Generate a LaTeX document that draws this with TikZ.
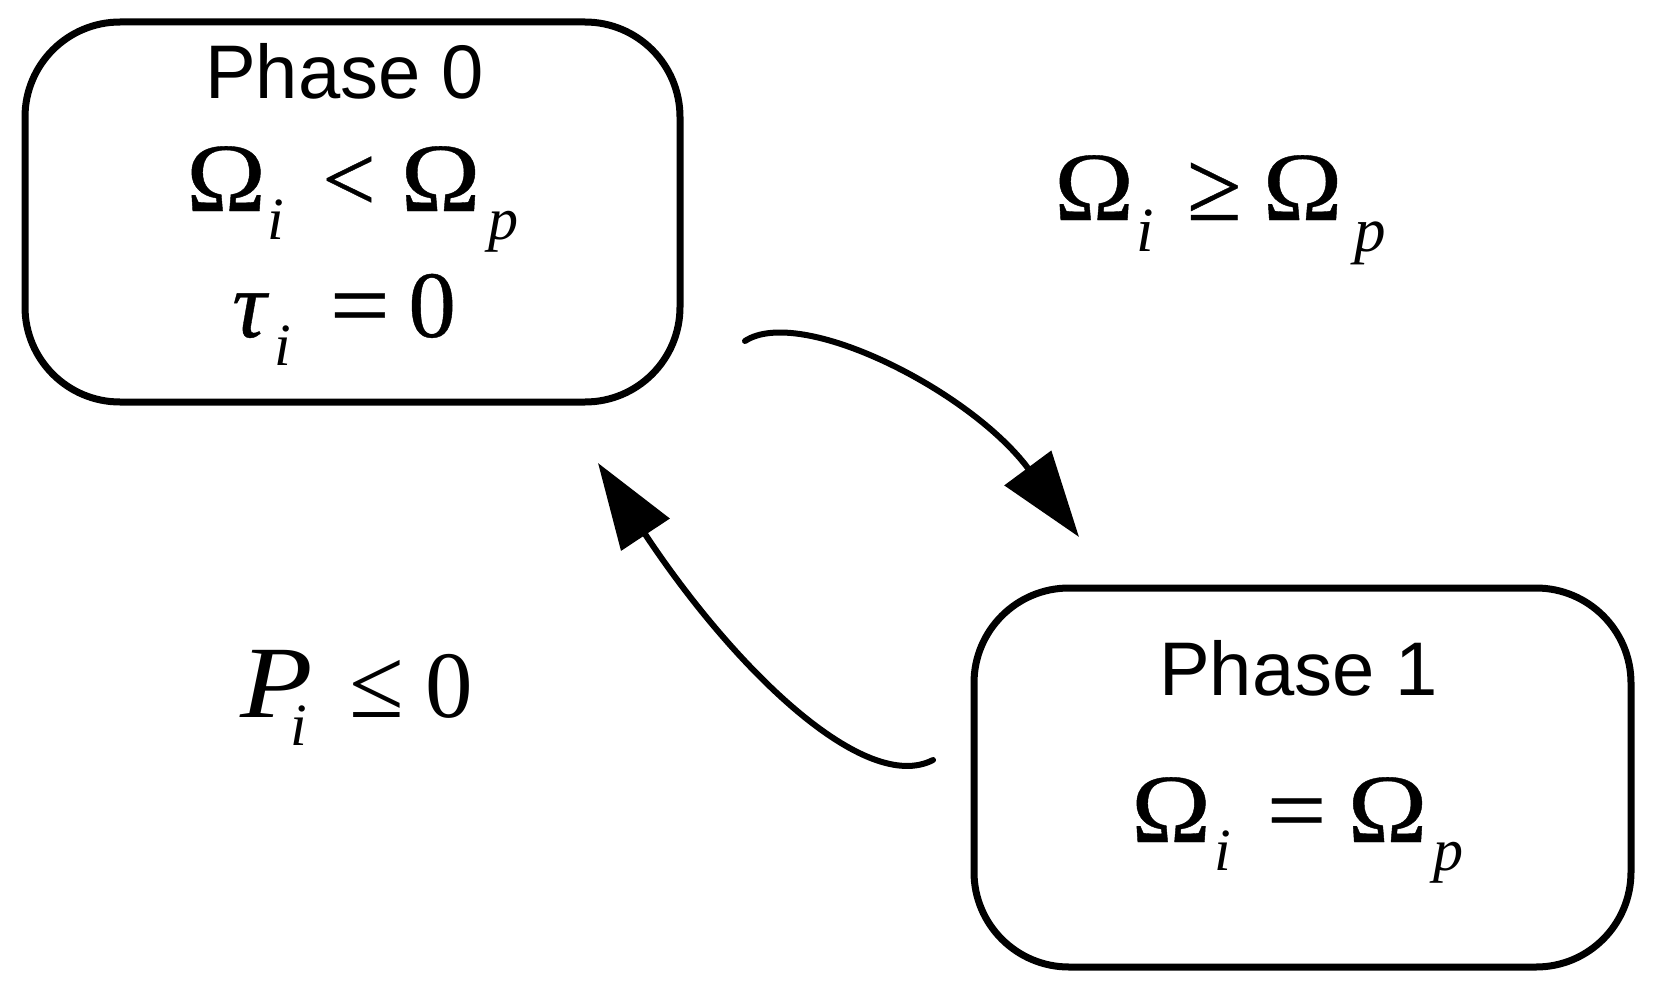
\documentclass[tikz,border=0pt]{standalone}
\usepackage{fontspec}
\setmainfont{Liberation Sans}
\newfontfamily\mser{Liberation Serif}
\newfontfamily\mserb[FakeBold=0.4]{Liberation Serif}
\usetikzlibrary{arrows.meta}
\newcommand\msub[1]{\raisebox{-28pt}{\fontsize{60}{60}\selectfont\mser\itshape #1}}
\newcommand\lsub[1]{\raisebox{-31pt}{\fontsize{63}{63}\selectfont\mser\itshape #1}}
\newcommand\Om{\scalebox{1.13}[1.03]{Ω}}
\newcommand\wide[1]{\scalebox{1.12}[1]{#1}}
\newcommand\rel[1]{\scalebox{1.05}[1.05]{#1}}
\begin{document}
\begin{tikzpicture}[x=1pt,y=-1pt,
  box/.style={draw, line width=7pt, rounded corners=95pt, inner sep=0pt},
  phase/.style={font=\fontsize{76}{76}\selectfont, anchor=base west, inner sep=0pt},
  eq/.style={font=\fontsize{95}{95}\selectfont\mserb, anchor=base west, inner sep=0pt},
  conn/.style={line width=6pt, line cap=round, -{Triangle[length=86pt,width=57pt]}}]
\useasboundingbox (0,0) rectangle (1654,998);
\node[box, minimum width=655pt, minimum height=380pt] (b0) at (352.5,212) {};
\node[box, minimum width=657pt, minimum height=379pt] (b1) at (1302.5,777.5) {};
\node[phase] (t0) at (205,99) {Phase 0};
\node[eq] (e0a) at (186,211) {\Om\hspace{1.5pt}\msub{i}\hspace{38pt}<\hspace{25pt}\Om\hspace{7.5pt}\msub{p}};
\node[eq] (e0b) at (232,337) {\itshape τ\hspace{8pt}\msub{i}\hspace{39pt}\upshape\wide{=}\hspace{18.5pt}0};
\node[eq] (lab1) at (1054,220) {\Om\hspace{2.5pt}\lsub{i}\hspace{33pt}\rel{≥}\hspace{21pt}\Om\hspace{11.5pt}\lsub{p}};
\node[phase] (t1) at (1159,695) {Phase 1};
\node[eq] (e1a) at (1131,842) {\Om\hspace{3.5pt}\msub{i}\hspace{35.5pt}\wide{=}\hspace{21pt}\Om\hspace{6.5pt}\msub{p}};
\node[eq] (lab2) at (240,717) {\mser\itshape\scalebox{1.25}[1.08]{P}\hspace{-21.8pt}\msub{i}\hspace{41.7pt}\upshape\rel{≤}\hspace{21.6pt}0};
\coordinate (a0s) at (745,341);
\coordinate (a0e) at (1079,537);
\coordinate (a1s) at (933,760);
\coordinate (a1e) at (598,463);
\draw[conn] (a0s) .. controls (800,305) and (970,390) .. (a0e);
\draw[conn] (a1s) .. controls (865,795) and (735,670) .. (a1e);
\end{tikzpicture}
\end{document}
